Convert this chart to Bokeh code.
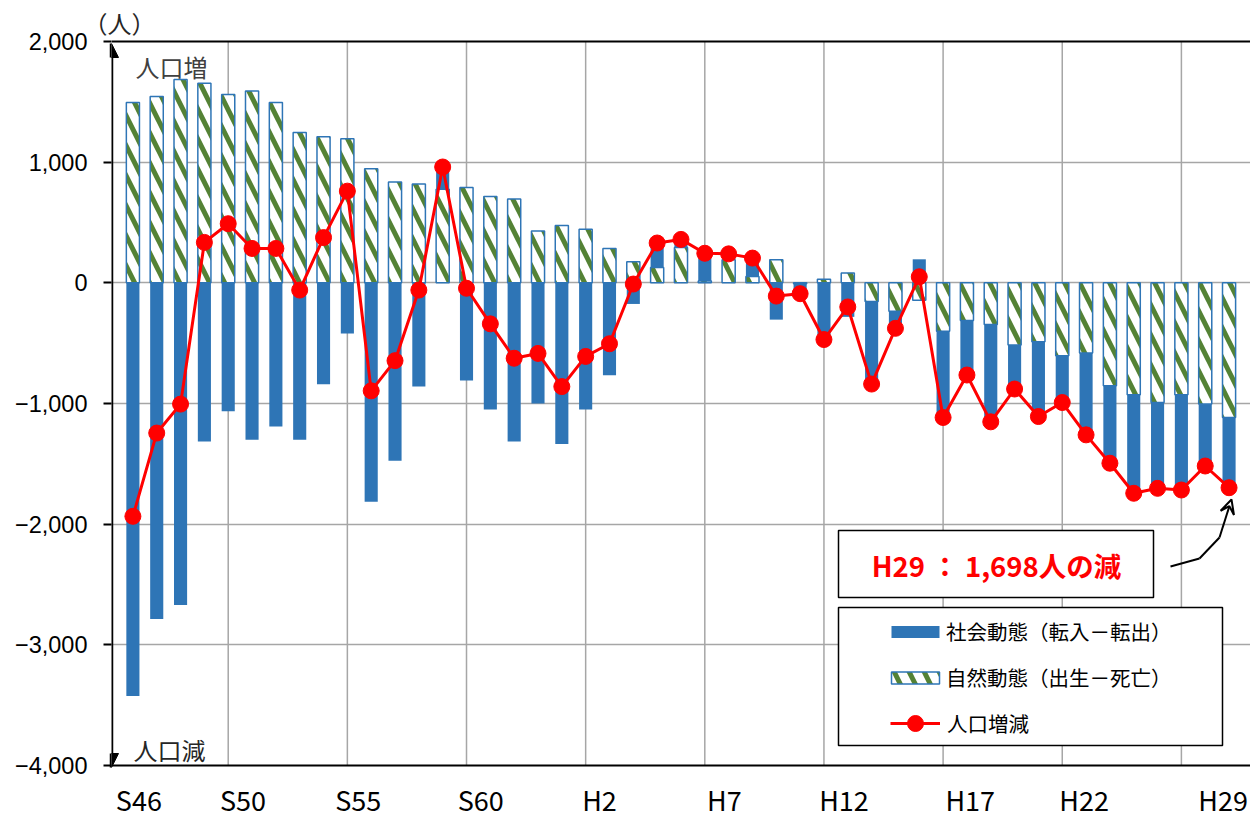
from bokeh.plotting import figure
from bokeh.models import (ColumnDataSource, FixedTicker, Legend, LegendItem, Span, Title,
                          Label, LabelSet, BoxAnnotation, Arrow, NormalHead, VeeHead, Range1d)
from bokeh.core.properties import value
from bokeh.embed import file_html
from bokeh.resources import INLINE

# ---------------- data ----------------
years = [f"S{n}" for n in range(46, 64)] + [f"H{n}" for n in range(1, 30)]

# 自然動態（出生－死亡）
natural = [1495, 1545, 1685, 1655, 1560, 1590, 1495, 1245, 1210, 1195,
           945, 835, 820, 775, 790, 715, 695, 430, 475, 445,
           285, 175, 128, 292, 15, 192, 52, 192, -8, 30,
           82, -155, -236, -145, -402, -313, -346, -515, -488, -604,
           -582, -853, -928, -992, -928, -1005, -1116]
# 社会動態（転入－転出）
social = [-3425, -2785, -2670, -1315, -1065, -1300, -1190, -1300, -840, -420,
          -1815, -1475, -860, 185, -810, -1050, -1315, -1000, -1335, -1050,
          -765, -175, 202, 68, 230, 48, 153, -305, -82, -500,
          -282, -684, -141, 195, -714, -451, -806, -365, -620, -388,
          -678, -642, -816, -711, -789, -513, -582]
# 人口増減
net = [-1935, -1245, -1005, 335, 490, 285, 285, -60, 375, 760,
       -895, -645, -60, 960, -45, -340, -625, -585, -860, -610,
       -505, -10, 330, 360, 245, 240, 205, -110, -90, -470,
       -200, -839, -377, 50, -1116, -764, -1152, -880, -1108, -992,
       -1260, -1495, -1744, -1703, -1717, -1518, -1698]

y_ticks = [-4000, -3000, -2000, -1000, 0, 1000, 2000]
y_tick_labels = ["−4,000", "−3,000", "−2,000", "−1,000", "0", "1,000", "2,000"]
x_label_text = ["S46", "S50", "S55", "S60", "H2", "H7", "H12", "H17", "H22", "H29"]

# layout (category positions of the tick labels / gridlines)
x_label_pos = [0.25, 4.62, 9.46, 14.6, 19.58, 24.82, 29.84, 35.14, 39.92, 45.75]
grid_pos = [4, 9, 14, 19, 24, 29, 34, 39, 44]

BLUE = "#2E75B6"
GREEN = "#548235"
RED = "#FF0000"
JP = "Noto Sans CJK JP"

# frame geometry: value axis 2000 -> 41px, -4000 -> 765px; frame spans y 39..819
PPU = 724 / 6000.0
Y_TOP = 2000 + 2 / PPU
Y_BOT = -4000 - 54 / PPU

# stacking (natural first, social stacked on it when same sign)
x = list(range(len(years)))
soc_bottom, soc_top = [], []
for n, s in zip(natural, social):
    if n * s > 0:
        soc_bottom.append(n)
        soc_top.append(n + s)
    else:
        soc_bottom.append(0)
        soc_top.append(s)

src = ColumnDataSource(dict(x=x, year=years, nat=natural, soc_bottom=soc_bottom,
                            soc_top=soc_top, net=net))

p = figure(width=1250, height=819, x_range=Range1d(-0.898, 46.9), y_range=Range1d(Y_BOT, Y_TOP),
           output_backend="svg", toolbar_location=None,
           min_border_left=111, min_border_right=0, min_border_top=39, min_border_bottom=0)
p.outline_line_color = None

# title used for the unit label
p.title = Title(text="（人）", align="left", offset=-28, text_font=JP, text_font_size="24px",
                text_font_style="normal", text_color="#262626", standoff=0)

# axes
p.xaxis.visible = False
p.xgrid.visible = False

p.yaxis.ticker = FixedTicker(ticks=y_ticks)
p.yaxis.major_label_overrides = {t: l for t, l in zip(y_ticks, y_tick_labels)}
p.yaxis.axis_line_color = None
p.yaxis.major_tick_out = 8
p.yaxis.major_tick_in = 0
p.yaxis.major_tick_line_width = 2
p.yaxis.major_tick_line_color = "black"
p.yaxis.minor_tick_line_color = None
p.yaxis.major_label_text_font = "Liberation Sans"
p.yaxis.major_label_text_font_size = "23.5px"
p.yaxis.major_label_text_color = "black"
p.yaxis.major_label_standoff = 16

p.ygrid.ticker = FixedTicker(ticks=[-3000, -2000, -1000, 0, 1000])
p.ygrid.grid_line_color = "#A6A6A6"
p.ygrid.grid_line_width = 1.5

# vertical gridlines (between the value limits)
p.segment(x0=grid_pos, y0=[-4000] * len(grid_pos), x1=grid_pos, y1=[2000] * len(grid_pos),
          line_color="#A6A6A6", line_width=1.5, level="underlay")

# bars
r_nat = p.vbar(x="x", width=0.55, bottom=0, top="nat", source=src,
               fill_color="white", hatch_pattern="left_diagonal_line", hatch_color=GREEN,
               hatch_scale=30, hatch_weight=5, line_color=BLUE, line_width=1.5)
r_soc = p.vbar(x="x", width=0.55, bottom="soc_bottom", top="soc_top", source=src,
               fill_color=BLUE, line_color=None)

# net line
r_line = p.line(x="x", y="net", source=src, line_color=RED, line_width=3)
r_pts = p.scatter(x="x", y="net", source=src, size=16, fill_color=RED, line_color=RED)

# plot-area border lines (top at 2000, bottom at -4000)
p.add_layout(Span(location=2000, dimension="width", line_color="black", line_width=2))
p.add_layout(Span(location=-4000, dimension="width", line_color="black", line_width=2))

# y axis double arrow
p.add_layout(Arrow(x_start=0, y_start=52, x_end=0, y_end=776,
                   start_units="screen", end_units="screen",
                   start=NormalHead(size=14, fill_color="black", line_color="black"),
                   end=NormalHead(size=14, fill_color="black", line_color="black"),
                   line_color="black", line_width=3.5))

# texts
p.add_layout(Label(x=24, y=753, x_units="screen", y_units="screen", text="人口増",
                   text_font=JP, text_font_size="24px", text_color="#404040",
                   text_baseline="middle", text_align="left"))
p.add_layout(Label(x=22, y=70, x_units="screen", y_units="screen", text="人口減",
                   text_font=JP, text_font_size="24px", text_color="#262626",
                   text_baseline="middle", text_align="left"))

# x tick labels
xl_src = ColumnDataSource(dict(x=x_label_pos, text=x_label_text))
p.add_layout(LabelSet(x="x", y=9, y_units="screen", text="text", source=xl_src,
                      text_align="center", text_baseline="alphabetic",
                      text_font=value(JP), text_font_size=value("27px"), text_color="black"))

# annotation box
p.add_layout(BoxAnnotation(left=727, right=1042, top=289, bottom=222,
                           left_units="screen", right_units="screen",
                           top_units="screen", bottom_units="screen",
                           fill_color="white", fill_alpha=1, line_color="black",
                           line_width=1.5, line_alpha=1))
p.add_layout(Label(x=885, y=255, x_units="screen", y_units="screen",
                   text="H29 ： 1,698人の減", text_font=JP, text_font_size="27.5px",
                   text_font_style="bold", text_color=RED,
                   text_align="center", text_baseline="middle"))

# arrow to last point
segs = [(1059, 253, 1088, 261), (1088, 261, 1108, 282), (1108, 282, 1120, 320)]
for i, (xs, ys, xe, ye) in enumerate(segs):
    head = VeeHead(size=14, line_color="black", line_width=2, fill_alpha=0) if i == len(segs) - 1 else None
    p.add_layout(Arrow(x_start=xs, y_start=ys, x_end=xe, y_end=ye,
                       start_units="screen", end_units="screen", end=head,
                       line_color="black", line_width=2))

# legend box
p.add_layout(BoxAnnotation(left=727, right=1111, top=212, bottom=74,
                           left_units="screen", right_units="screen",
                           top_units="screen", bottom_units="screen",
                           fill_color="white", fill_alpha=1, line_color="black",
                           line_width=1.5, line_alpha=1))

legA = Legend(items=[LegendItem(label="社会動態（転入－転出）", renderers=[r_soc]),
                     LegendItem(label="自然動態（出生－死亡）", renderers=[r_nat])],
              location=(774, 127), glyph_width=60, glyph_height=15, label_height=15,
              spacing=16, padding=0, margin=0, border_line_color=None,
              background_fill_alpha=0, label_text_font=JP, label_text_font_size="20.5px",
              label_text_color="black", label_standoff=1)
legB = Legend(items=[LegendItem(label="人口増減", renderers=[r_line, r_pts])],
              location=(779, 76), glyph_width=50, glyph_height=40, label_height=40,
              padding=0, margin=0, border_line_color=None,
              background_fill_alpha=0, label_text_font=JP, label_text_font_size="20.5px",
              label_text_color="black", label_standoff=7)
p.add_layout(legA)
p.add_layout(legB)

open("out.html", "w").write(file_html(p, INLINE))
